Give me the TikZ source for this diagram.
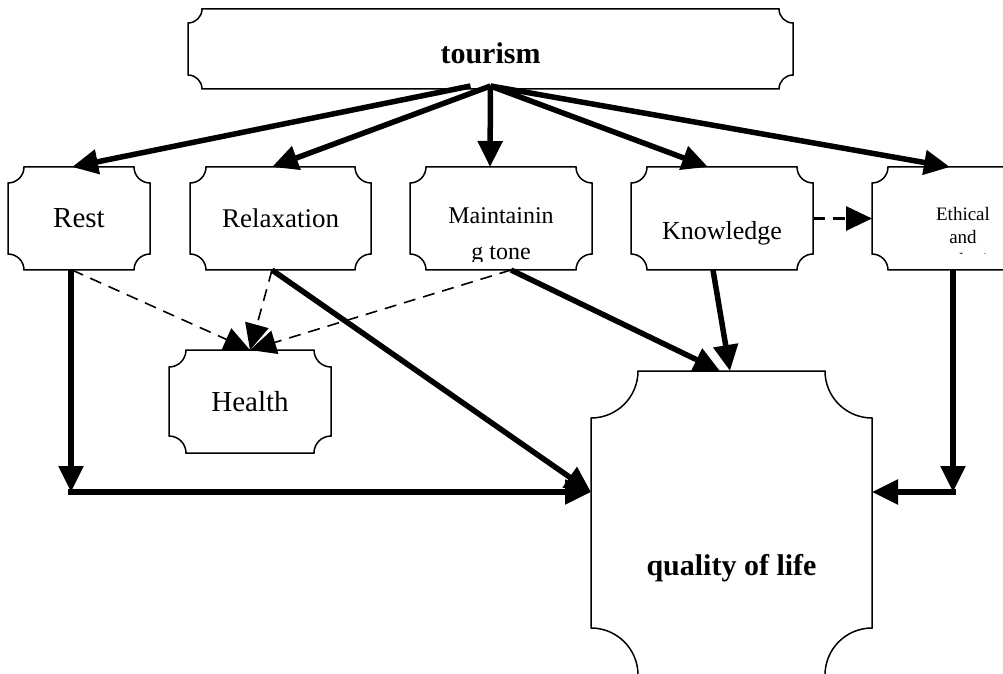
\documentclass[tikz,border=0pt]{standalone}
\usepackage{fontspec}
\setmainfont{Liberation Serif}
\usepackage{tikz}
\usetikzlibrary{arrows.meta}
\tikzset{>={Triangle[length=26pt,width=24pt]}}
\tikzset{
  box/.style={rectangle, draw=none, inner sep=0pt, outer sep=0pt, minimum height=103pt},
  plaqueline/.style={line width=1.5pt, line join=miter},
  mainarrow/.style={line width=5.5pt, ->},
  dasharrow/.style={line width=1.6pt, dash pattern=on 12pt off 8pt, ->},
  boxtext/.style={inner sep=0pt, align=center}
}
\newcommand{\plaque}[2]{%
  \draw[plaqueline] ([xshift=#2]#1.north west) -- ([xshift=-#2]#1.north east)
    arc[start angle=180, end angle=270, radius=#2] -- ([yshift=#2]#1.south east)
    arc[start angle=90, end angle=180, radius=#2] -- ([xshift=#2]#1.south west)
    arc[start angle=0, end angle=90, radius=#2] -- ([yshift=-#2]#1.north west)
    arc[start angle=270, end angle=360, radius=#2] -- cycle;}

\begin{document}
\begin{tikzpicture}[x=1pt, y=1pt]
      \useasboundingbox (0,0) rectangle (1003,673);
      \clip (0,0) rectangle (1003,673);
      \node[box, minimum width=605pt, minimum height=80pt] (tourism) at (490.5,624) {};
      \node[box, minimum width=142pt] (rest) at (79,454.5) {};
      \node[box, minimum width=181pt] (relax) at (280.5,454.5) {};
      \node[box, minimum width=182pt] (maint) at (501,454.5) {};
      \node[box, minimum width=182pt] (know) at (722,454.5) {};
      \node[box, minimum width=182pt] (ethic) at (963,454.5) {};
      \node[box, minimum width=162pt] (health) at (250,271.5) {};
      \node[box, minimum width=281pt, minimum height=304pt] (qol) at (731.5,150) {};
      \plaque{tourism}{14pt}
      \plaque{rest}{16pt}
      \plaque{relax}{16pt}
      \plaque{maint}{16pt}
      \plaque{know}{16pt}
      \plaque{ethic}{16pt}
      \plaque{health}{17pt}
      \plaque{qol}{47pt}
      \node[boxtext, font=\bfseries\fontsize{30}{34}\selectfont] (tourismtext) at ([yshift=-4pt]tourism.center) {tourism};
      \node[boxtext, font=\fontsize{29}{34}\selectfont] (resttext) at (rest.center) {Rest};
      \node[boxtext, font=\fontsize{27}{32}\selectfont] (relaxtext) at (relax.center) {Relaxation};
      \node[boxtext, font=\fontsize{26}{31}\selectfont] (knowtext) at ([yshift=-15pt]know.center) {Knowledge};
      \node[boxtext, font=\fontsize{29}{34}\selectfont] (healthtext) at (health.center) {Health};
      \node[boxtext, font=\bfseries\fontsize{30}{34}\selectfont] (qoltext) at ([yshift=-45pt]qol.center) {quality of life};
      \begin{scope}
        \clip (maint.north west) rectangle ([yshift=8pt]maint.south east);
        \node[boxtext, font=\fontsize{24}{36}\selectfont] (mainttext) at ([yshift=-18pt]maint.center) {Maintainin\\g tone};
      \end{scope}
      \begin{scope}
        \clip (ethic.north west) rectangle ([yshift=16pt]ethic.south east);
        \node[boxtext, font=\fontsize{19}{23}\selectfont] (ethictext) at ([yshift=-18.5pt]ethic.center) {Ethical\\and\\aesthetic};
      \end{scope}
      \coordinate (restbend) at (71,181);
      \coordinate (ethicbend) at (953,181);
      \coordinate (qolleft) at ([yshift=31pt]qol.west);
      \coordinate (qolright) at ([yshift=31pt]qol.east);
      \draw[mainarrow] ([shift={(-20pt,3pt)}]tourism.south) -- ([xshift=-7pt]rest.north);
      \draw[mainarrow] ([yshift=3pt]tourism.south) -- ([xshift=-8.5pt]relax.north);
      \draw[mainarrow] ([yshift=3pt]tourism.south) -- ([xshift=-11pt]maint.north);
      \draw[mainarrow] ([yshift=3pt]tourism.south) -- ([xshift=-14pt]know.north);
      \draw[mainarrow] ([yshift=3pt]tourism.south) -- ([xshift=-13pt]ethic.north);
      \draw[dasharrow] ([xshift=-7pt]rest.south) -- (health.north);
      \draw[dasharrow] ([xshift=-8.5pt]relax.south) -- (health.north);
      \draw[dasharrow] ([xshift=10pt]maint.south) -- (health.north);
      \draw[dasharrow, line width=3pt] (know.east) -- (ethic.west);
      \draw[mainarrow] ([xshift=-8pt]rest.south) -- (restbend);
      \draw[mainarrow] ([xshift=-2.75pt]restbend) -- (qolleft);
      \draw[mainarrow] ([xshift=-8.5pt]relax.south) -- (qolleft);
      \draw[mainarrow] ([xshift=10pt]maint.south) -- ([xshift=-11.5pt]qol.north);
      \draw[mainarrow] ([xshift=-9pt]know.south) -- ([xshift=-1.5pt]qol.north);
      \draw[mainarrow] ([xshift=-10pt]ethic.south) -- (ethicbend);
      \draw[mainarrow] ([xshift=2.75pt]ethicbend) -- (qolright);
    \end{tikzpicture}
\end{document}
